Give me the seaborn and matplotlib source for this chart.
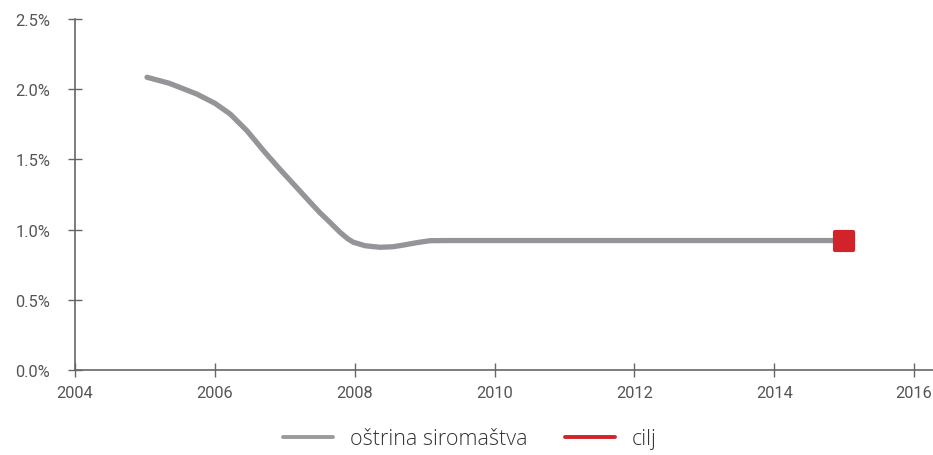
import pandas as pd
import numpy as np
import matplotlib
matplotlib.use('Agg')
import matplotlib.pyplot as plt
import seaborn as sns
from matplotlib.lines import Line2D
from matplotlib.ticker import FuncFormatter

# ---- data ----
years = [2005.03, 2005.35, 2005.74, 2006.0, 2006.22, 2006.46, 2006.7, 2006.93,
         2007.17, 2007.4, 2007.5, 2007.65, 2007.79, 2007.9, 2007.98, 2008.15,
         2008.36, 2008.55, 2008.7, 2008.9, 2009.08, 2009.3, 2010.0, 2011.0,
         2012.0, 2013.0, 2014.0, 2014.88]
severity = [2.085, 2.042, 1.966, 1.90, 1.823, 1.704, 1.56, 1.43,
            1.30, 1.175, 1.122, 1.05, 0.981, 0.935, 0.91, 0.885,
            0.874, 0.878, 0.89, 0.908, 0.921, 0.922, 0.922, 0.922,
            0.922, 0.922, 0.922, 0.922]
target_year = [2015.0]
target_value = [0.922]

xticks = [2004, 2006, 2008, 2010, 2012, 2014, 2016]
yticks = [0.0, 0.5, 1.0, 1.5, 2.0, 2.5]
series_label = 'oštrina siromaštva'
target_label = 'cilj'

grey = '#939598'
red = '#d2232a'
axis_col = '#666666'
text_col = '#555555'

df = pd.DataFrame({'year': years, 'value': severity})
tdf = pd.DataFrame({'year': target_year, 'value': target_value})

sns.set_style('white')
plt.rcParams['font.family'] = ['Roboto', 'DejaVu Sans']

fig = plt.figure(figsize=(9.33, 4.56), dpi=100)
ax = fig.add_axes([75 / 933, 85 / 456, 858 / 933, 351 / 456])

sns.lineplot(data=df, x='year', y='value', ax=ax, color=grey, linewidth=3.8,
             solid_capstyle='round', solid_joinstyle='round', sort=False)
sns.scatterplot(data=tdf, x='year', y='value', ax=ax, color=red, marker='s',
                s=150, edgecolor=red, linewidth=3, zorder=5)
for coll in ax.collections:
    coll.set_joinstyle('round')

ax.set_xlim(2004, 2004 + 858 / 69.92)
ax.set_ylim(0, 2.5)
ax.set_xticks(xticks)
ax.set_yticks(yticks)
ax.yaxis.set_major_formatter(FuncFormatter(lambda v, p: f'{v:.1f}%'))
ax.set_xlabel('')
ax.set_ylabel('')

for side in ['top', 'right']:
    ax.spines[side].set_visible(False)
for side in ['left', 'bottom']:
    ax.spines[side].set_color(axis_col)
    ax.spines[side].set_linewidth(1.2)
ax.tick_params(axis='both', which='major', bottom=True, left=True,
               direction='inout', length=9.5, width=1, color=axis_col,
               labelsize=11.8, labelcolor=text_col)
ax.tick_params(axis='y', pad=13)
ax.tick_params(axis='x', pad=6)
ax.grid(False)

handles = [Line2D([0], [0], color='#9b9b9e', lw=2.8), Line2D([0], [0], color=red, lw=2.8)]
leg = ax.legend(handles, [series_label, target_label], loc='center',
                bbox_to_anchor=(470 / 933, 1 - 440 / 456), bbox_transform=fig.transFigure,
                ncol=2, frameon=False, handlelength=2.3, handletextpad=0.8,
                columnspacing=1.75, prop={'family': 'Open Sans', 'size': 15.5, 'weight': 'light'})
for t in leg.get_texts():
    t.set_color('#333333')

fig.savefig('out.png', dpi=100)
